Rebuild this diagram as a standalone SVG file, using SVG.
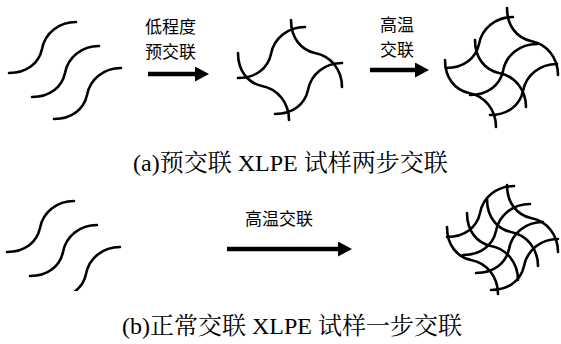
<svg xmlns="http://www.w3.org/2000/svg" xmlns:xlink="http://www.w3.org/1999/xlink" width="561" height="344" viewBox="0 0 561 344">
  <style>
    .chain { fill: none; stroke: #000; stroke-width: 2.6; stroke-linecap: round; }
    .shaft { stroke: #000; stroke-width: 4.5; }
    .lbl { font-family: "Noto Sans CJK SC", "Noto Sans", sans-serif; font-size: 17px; fill: #000; }
    .cap { font-family: "Liberation Serif", "Noto Serif CJK SC", "Noto Sans CJK SC", serif; font-size: 24px; fill: #000; }
  </style>
  <defs>
    <!-- polymer chain segment: rising S-curve (horizontal ends) -->
    <path id="ch" d="M0,0 C18,0 30,-10 33,-24 C36,-40 50,-51 67,-51"/>
    <!-- polymer chain segment: falling S-curve (vertical ends) -->
    <path id="vt" d="M0,0 C0,18 10,30 24,33 C40,36 51,50 51,67"/>
    <marker id="head" markerUnits="userSpaceOnUse" markerWidth="14" markerHeight="16" refX="0" refY="7.5" orient="auto">
      <path d="M0,0 L14,7.5 L0,15 z" fill="#000"/>
    </marker>
    <!-- lower chain of panel (b) is cut at the panel edge -->
    <clipPath id="bEdge">
      <rect x="0" y="180" width="200" height="111"/>
    </clipPath>
  </defs>

  <!-- (a) linear chains -->
  <g id="a-linear" class="chain">
    <use xlink:href="#ch" x="9" y="73"/>
    <use xlink:href="#ch" x="32" y="97"/>
    <use xlink:href="#ch" x="54" y="119"/>
  </g>

  <!-- (a) lightly pre-crosslinked -->
  <g id="a-pre" class="chain">
    <use xlink:href="#ch" x="238" y="78"/>
    <use xlink:href="#ch" x="275" y="114"/>
    <use xlink:href="#vt" x="291" y="20"/>
    <use xlink:href="#vt" x="238" y="53"/>
  </g>

  <!-- (a) fully crosslinked network -->
  <g id="a-net" class="chain">
    <use xlink:href="#vt" x="445" y="60"/>
    <use xlink:href="#vt" x="475" y="40"/>
    <use xlink:href="#vt" x="507" y="8"/>
    <use xlink:href="#ch" x="446" y="68"/>
    <use xlink:href="#ch" x="470" y="95"/>
    <use xlink:href="#ch" x="490" y="115"/>
  </g>

  <!-- (b) linear chains -->
  <g id="b-linear" class="chain">
    <use xlink:href="#ch" x="7" y="252"/>
    <use xlink:href="#ch" x="30" y="276"/>
    <g clip-path="url(#bEdge)">
      <use xlink:href="#ch" x="53" y="298"/>
    </g>
  </g>

  <!-- (b) dense network -->
  <g id="b-net" class="chain">
    <use xlink:href="#vt" x="447" y="227"/>
    <use xlink:href="#vt" x="467" y="213"/>
    <use xlink:href="#vt" x="487" y="199"/>
    <use xlink:href="#vt" x="507" y="185"/>
    <use xlink:href="#ch" x="447" y="237"/>
    <use xlink:href="#ch" x="463" y="255"/>
    <use xlink:href="#ch" x="476" y="273"/>
    <use xlink:href="#ch" x="491" y="290"/>
  </g>

  <!-- process arrows -->
  <g id="connectors">
    <line class="shaft" x1="148" y1="74" x2="195" y2="74" marker-end="url(#head)"/>
    <line class="shaft" x1="370" y1="70" x2="415" y2="70" marker-end="url(#head)"/>
    <line class="shaft" x1="227" y1="249" x2="338" y2="249" marker-end="url(#head)"/>
  </g>

  <g id="labels">
    <text class="lbl" x="145" y="33">低程度</text>
    <text class="lbl" x="145" y="58">预交联</text>
    <text class="lbl" x="380" y="31">高温</text>
    <text class="lbl" x="380" y="56">交联</text>
    <text class="lbl" x="245" y="225">高温交联</text>
    <text class="cap" x="133" y="171">(a)预交联 XLPE 试样两步交联</text>
    <text class="cap" x="122" y="334">(b)正常交联 XLPE 试样一步交联</text>
  </g>
</svg>
